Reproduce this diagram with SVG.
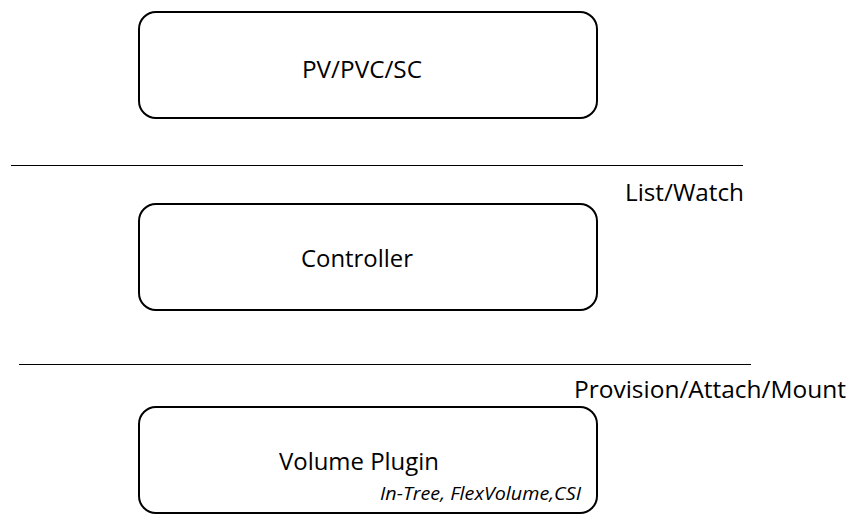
<svg xmlns="http://www.w3.org/2000/svg" width="861" height="530" viewBox="0 0 861 530">
<style>
.box{fill:#fff;stroke:#000;stroke-width:2}
.sep{stroke:#000;stroke-width:1}
text{font-family:"Open Sans","Noto Sans",sans-serif;fill:#000}
.t{font-size:24px;text-anchor:middle}
.l{font-size:24px}
.i{font-size:18px;font-style:italic}
</style>
<rect width="861" height="530" fill="#fff"/>
<g id="connectors">
<line class="sep" x1="11" y1="165.5" x2="743" y2="165.5"/>
<line class="sep" x1="19" y1="364.5" x2="751" y2="364.5"/>
<text class="l" x="625" y="201" textLength="119" lengthAdjust="spacingAndGlyphs">List/Watch</text>
<text class="l" x="574" y="398" textLength="272" lengthAdjust="spacingAndGlyphs">Provision/Attach/Mount</text>
</g>
<g id="pv">
<rect class="box" x="139" y="12" width="458" height="106" rx="17"/>
<text class="t" x="362" y="78" textLength="120" lengthAdjust="spacingAndGlyphs">PV/PVC/SC</text>
</g>
<g id="controller">
<rect class="box" x="139" y="204" width="458" height="106" rx="17"/>
<text class="t" x="357" y="267" textLength="112" lengthAdjust="spacingAndGlyphs">Controller</text>
</g>
<g id="plugin">
<rect class="box" x="139" y="407" width="458" height="106" rx="17"/>
<text class="t" x="359" y="470" textLength="160" lengthAdjust="spacingAndGlyphs">Volume Plugin</text>
<text class="i" x="380" y="500" textLength="201" lengthAdjust="spacingAndGlyphs">In-Tree, FlexVolume,CSI</text>
</g>
</svg>
